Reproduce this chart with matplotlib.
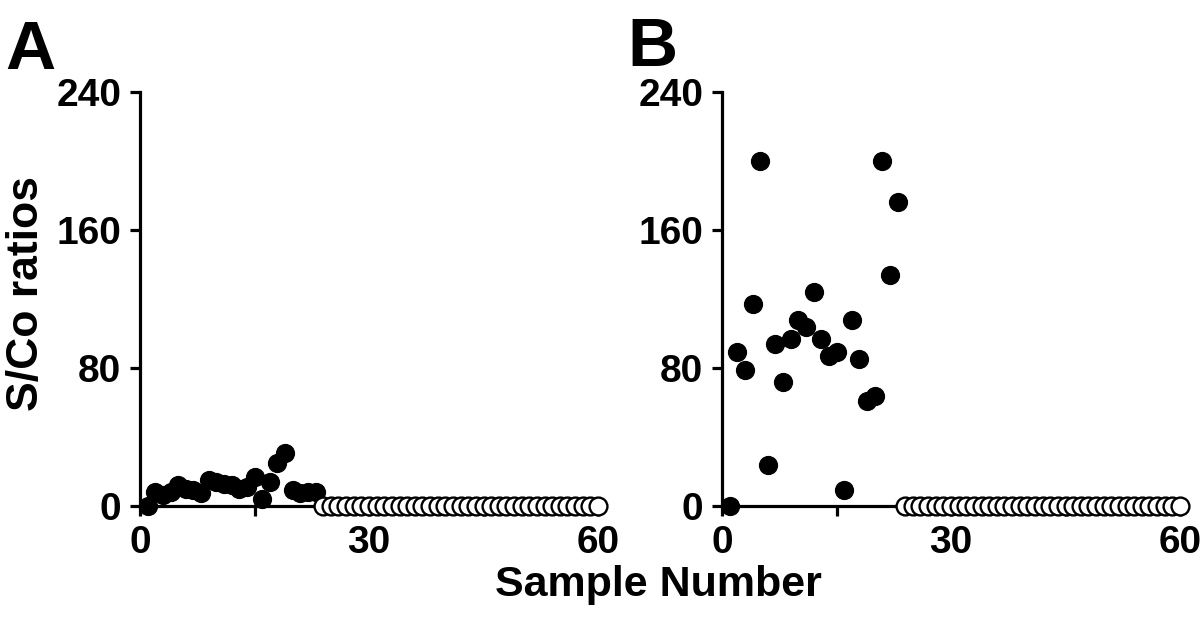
import numpy as np
import matplotlib
matplotlib.use("Agg")
import matplotlib.pyplot as plt

plt.rcParams["font.family"] = ["Liberation Sans", "DejaVu Sans"]
plt.rcParams["font.weight"] = "bold"

# muestras positivas (rellenas) y negativas (abiertas)
muestras_pos = np.arange(1, 24)
muestras_neg = np.arange(24, 61)

valores_a = [0, 8, 6.5, 8, 12, 10, 9, 7.5, 15, 14, 13, 12, 10, 11, 17, 4,
             14, 25, 31, 9, 7.5, 8, 8]
valores_b = [0, 89, 79, 117, 200, 24, 94, 72, 97, 108, 104, 124, 97, 87,
             89, 9, 108, 85, 61, 64, 200, 134, 176]
valores_neg = [0] * len(muestras_neg)

xticks = [0, 30, 60]
xticks_menores = [15, 45]
yticks = [0, 80, 160, 240]

fig = plt.figure(figsize=(12, 6.21), dpi=100)
ax_a = fig.add_axes([140 / 1200, 115 / 621, 458 / 1200, 414 / 621])
ax_b = fig.add_axes([722 / 1200, 115 / 621, 458 / 1200, 414 / 621])

for ax, vals in [(ax_a, valores_a), (ax_b, valores_b)]:
    ax.scatter(muestras_pos, vals, s=165, c="black", edgecolors="black",
               linewidths=1, zorder=3, clip_on=False)
    ax.scatter(muestras_neg, valores_neg, s=165, c="white", edgecolors="black",
               linewidths=1.7, zorder=3, clip_on=False)
    ax.set_xlim(0, 60)
    ax.set_ylim(0, 240)
    ax.set_xticks(xticks)
    ax.set_xticks(xticks_menores, minor=True)
    ax.set_yticks(yticks)
    for lado in ["top", "right"]:
        ax.spines[lado].set_visible(False)
    for lado in ["left", "bottom"]:
        ax.spines[lado].set_linewidth(2.3)
    ax.tick_params(which="both", direction="out", length=7.5, width=2.3,
                   labelsize=28, pad=6)
    ax.tick_params(axis="x", which="both", pad=6)
    for lab in ax.get_xticklabels() + ax.get_yticklabels():
        lab.set_fontweight("bold")
    ax.set_facecolor("none")

fig.text(0.004, 0.97, "A", fontsize=50, fontweight="bold", va="top", ha="left")
fig.text(0.523, 0.975, "B", fontsize=50, fontweight="bold", va="top", ha="left")
fig.text(0.549, 0.058, "Sample Number", fontsize=31, fontweight="bold",
         ha="center", va="center")
fig.text(0.022, 0.528, "S/Co ratios", fontsize=32, fontweight="bold",
         ha="center", va="center", rotation=90)

fig.savefig("out.png", dpi=100)
